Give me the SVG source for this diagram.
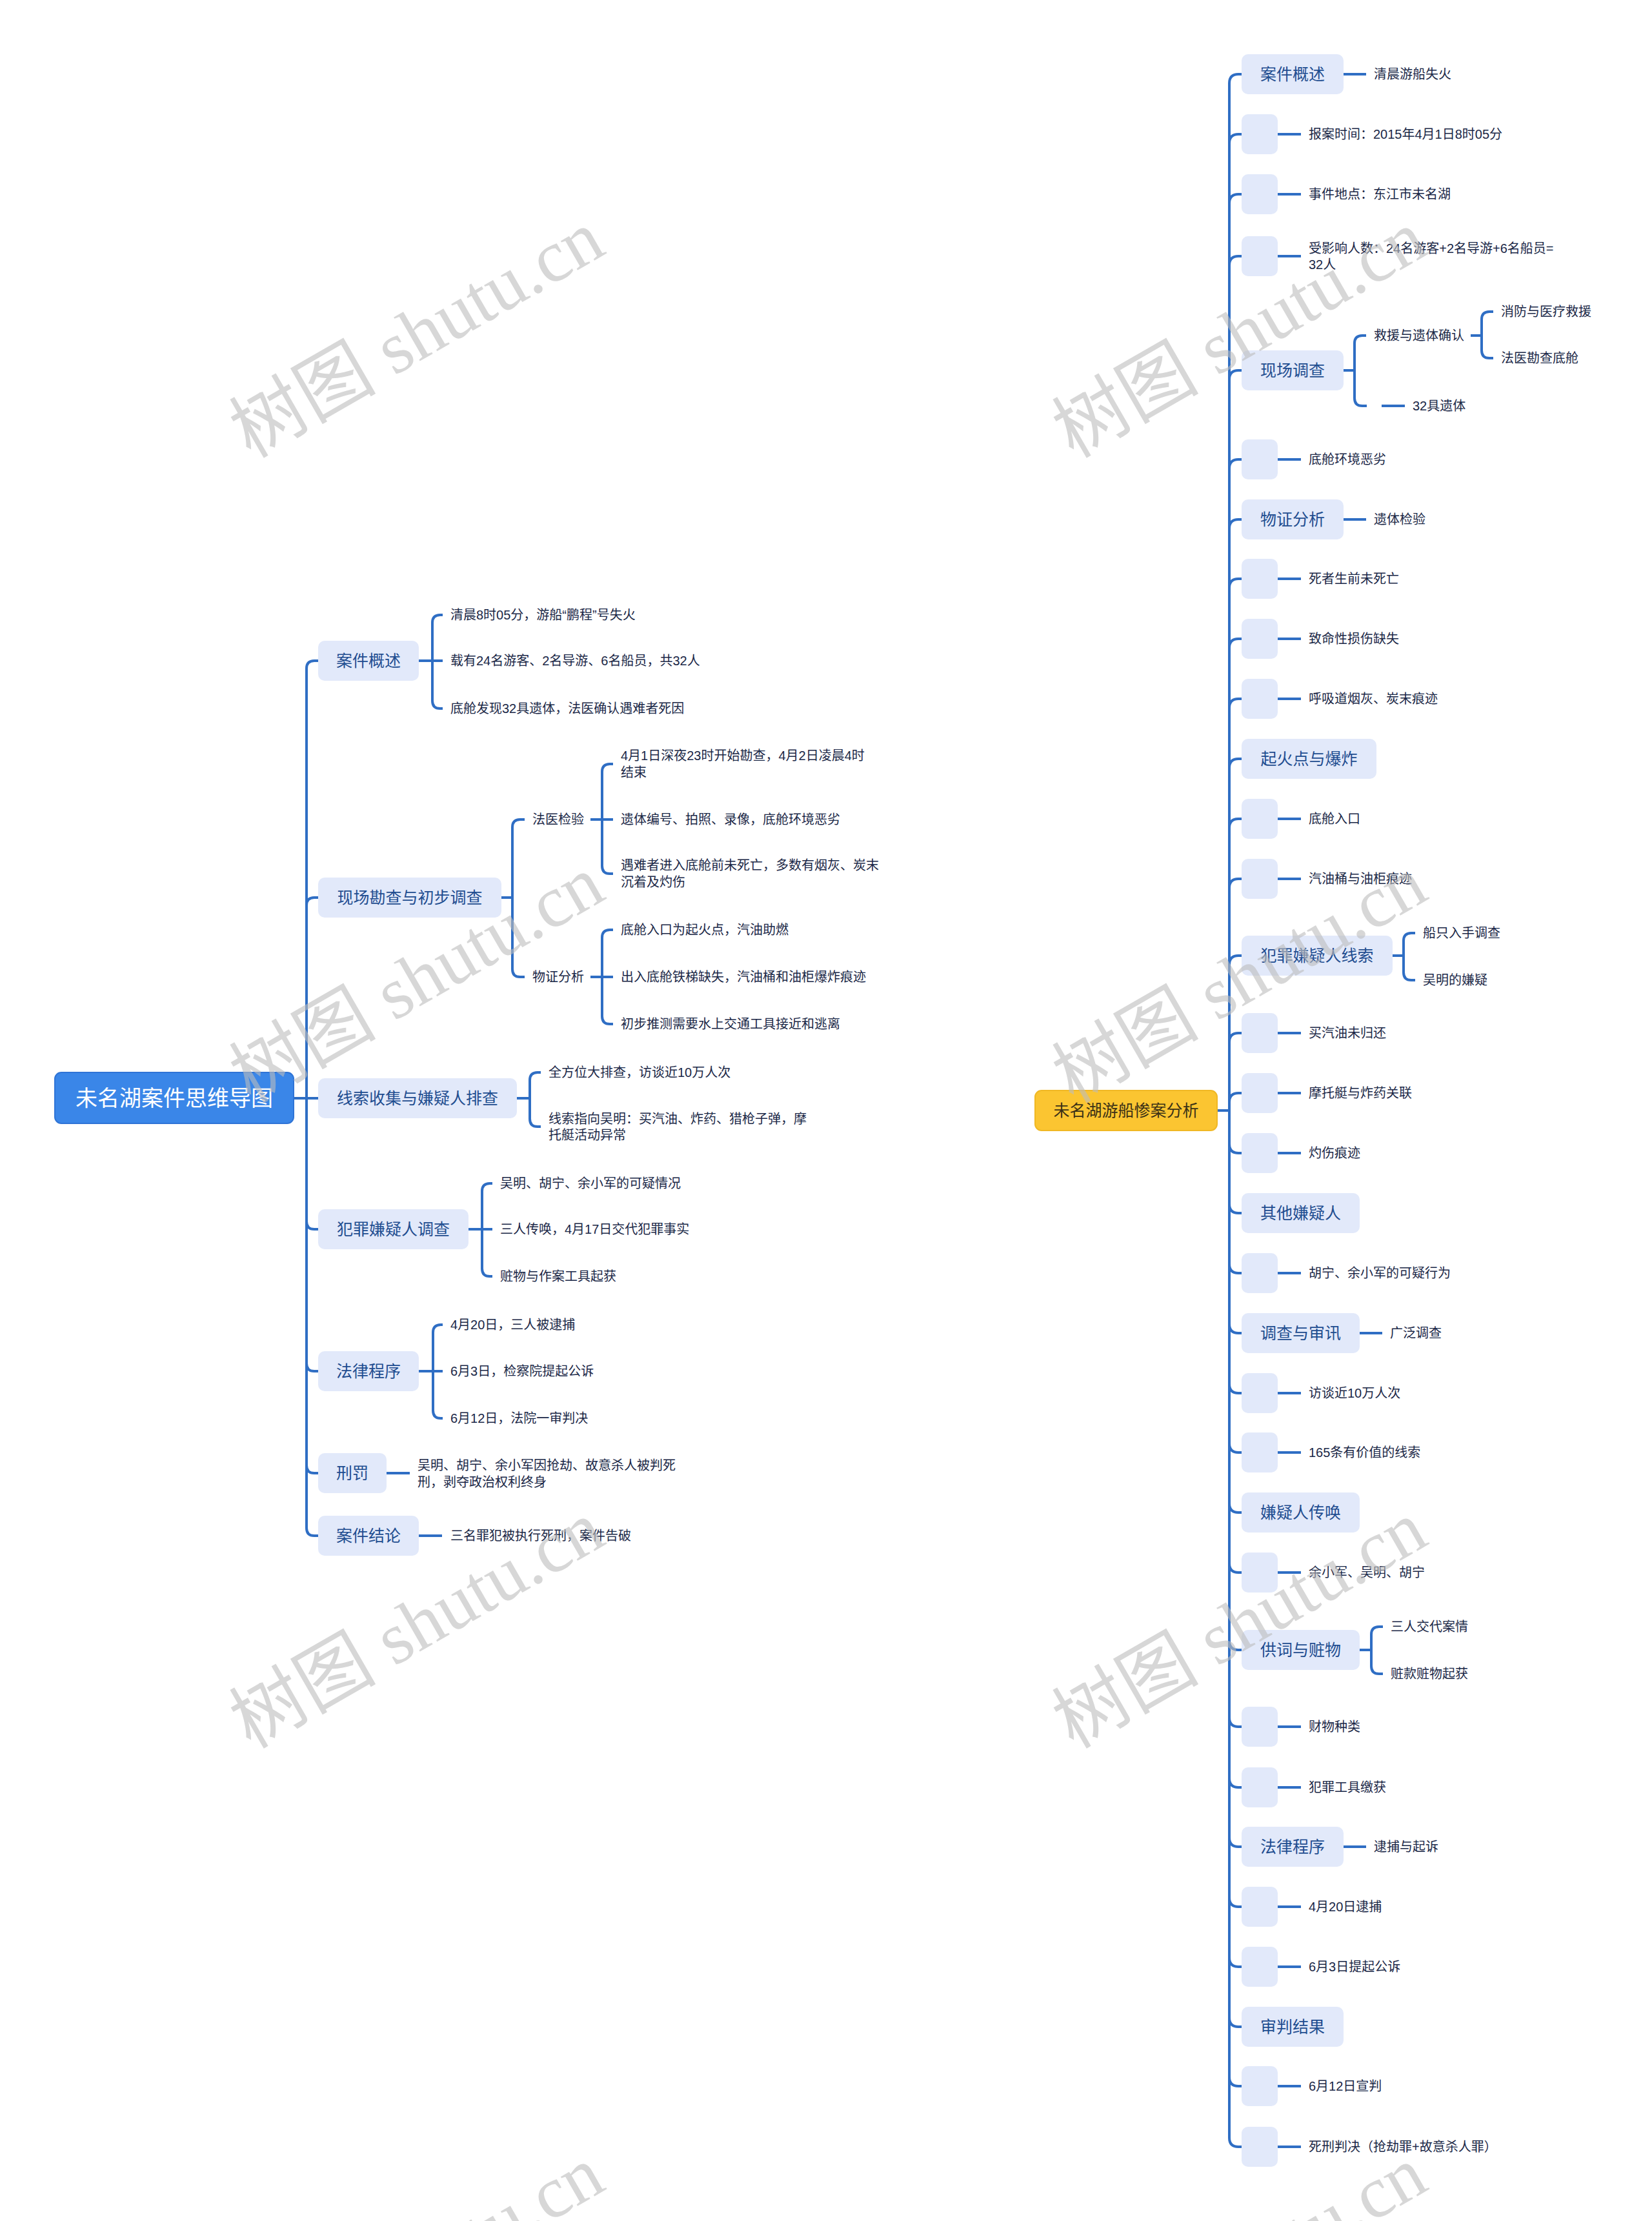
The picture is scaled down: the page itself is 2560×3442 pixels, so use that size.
<svg xmlns="http://www.w3.org/2000/svg" width="2560" height="3442" viewBox="0 0 2560 3442">
<style>
.ln{fill:none;stroke:#2f6ec4;stroke-width:4}
.bx{fill:#e2e9fa}
.tt{font-family:"Liberation Sans","Noto Sans CJK SC",sans-serif;font-size:25px;fill:#1f4d90;text-anchor:middle;dominant-baseline:central}
.lf{font-family:"Liberation Sans","Noto Sans CJK SC",sans-serif;font-size:20px;fill:#1b2847;dominant-baseline:central}
.wm{font-family:"Liberation Serif","Noto Sans CJK SC",serif;font-size:114px;fill:#bdbdbd;opacity:0.6;text-anchor:middle;dominant-baseline:central}
</style>
<rect width="2560" height="3442" fill="#ffffff"/>

<g id="connectors">
<!-- left root -->
<path class="ln" d="M475 1036 V2368"/>
<path class="ln" d="M475 1036 Q475 1024 487 1024 H493"/>
<path class="ln" d="M475 1403 Q475 1391 487 1391 H493"/>
<path class="ln" d="M455 1702 H493"/>
<path class="ln" d="M475 1893 Q475 1905 487 1905 H493"/>
<path class="ln" d="M475 2113 Q475 2125 487 2125 H493"/>
<path class="ln" d="M475 2271 Q475 2283 487 2283 H493"/>
<path class="ln" d="M475 2368 Q475 2380 487 2380 H493"/>
<!-- 案件概述 left -->
<path class="ln" d="M649 1024 H686 M670 965 V1086 M670 965 Q670 953 682 953 H686 M670 1086 Q670 1098 682 1098 H686"/>
<!-- 现场勘查 -->
<path class="ln" d="M777 1391 H794 M794 1282 V1502 M794 1282 Q794 1270 806 1270 H813 M794 1502 Q794 1514 806 1514 H813"/>
<path class="ln" d="M915 1270 H950 M933 1196 V1342 M933 1196 Q933 1184 945 1184 H950 M933 1342 Q933 1354 945 1354 H950"/>
<path class="ln" d="M915 1514 H950 M933 1453 V1575 M933 1453 Q933 1441 945 1441 H950 M933 1575 Q933 1587 945 1587 H950"/>
<!-- 线索收集 -->
<path class="ln" d="M801 1702 H821 M821 1674 V1734 M821 1674 Q821 1662 833 1662 H838 M821 1734 Q821 1746 833 1746 H838"/>
<!-- 犯罪嫌疑人调查 -->
<path class="ln" d="M726 1905 H763 M747 1846 V1966 M747 1846 Q747 1834 759 1834 H763 M747 1966 Q747 1978 759 1978 H763"/>
<!-- 法律程序 left -->
<path class="ln" d="M649 2125 H686 M671 2065 V2186 M671 2065 Q671 2053 683 2053 H686 M671 2186 Q671 2198 683 2198 H686"/>
<!-- 刑罚, 案件结论 -->
<path class="ln" d="M599 2283 H635"/>
<path class="ln" d="M649 2380 H685"/>

<!-- right root -->
<path class="ln" d="M1886 1721 H1905"/>
<path class="ln" d="M1905 129 V3313"/>
<path class="ln" d="M1905 129 Q1905 115 1919 115 H1924 M1905 222 Q1905 208 1919 208 H1924 M1905 315 Q1905 301 1919 301 H1924 M1905 411 Q1905 397 1919 397 H1924 M1905 588 Q1905 574 1919 574 H1924 M1905 726 Q1905 712 1919 712 H1924 M1905 819 Q1905 805 1919 805 H1924 M1905 911 Q1905 897 1919 897 H1924 M1905 1004 Q1905 990 1919 990 H1924 M1905 1097 Q1905 1083 1919 1083 H1924 M1905 1190 Q1905 1176 1919 1176 H1924 M1905 1283 Q1905 1269 1919 1269 H1924 M1905 1376 Q1905 1362 1919 1362 H1924 M1905 1495 Q1905 1481 1919 1481 H1924 M1905 1615 Q1905 1601 1919 1601 H1924 M1905 1708 Q1905 1694 1919 1694 H1924"/>
<path class="ln" d="M1905 1773 Q1905 1787 1919 1787 H1924 M1905 1866 Q1905 1880 1919 1880 H1924 M1905 1959 Q1905 1973 1919 1973 H1924 M1905 2052 Q1905 2066 1919 2066 H1924 M1905 2145 Q1905 2159 1919 2159 H1924 M1905 2237 Q1905 2251 1919 2251 H1924 M1905 2330 Q1905 2344 1919 2344 H1924 M1905 2423 Q1905 2437 1919 2437 H1924 M1905 2543 Q1905 2557 1919 2557 H1924 M1905 2662 Q1905 2676 1919 2676 H1924 M1905 2756 Q1905 2770 1919 2770 H1924 M1905 2848 Q1905 2862 1919 2862 H1924 M1905 2941 Q1905 2955 1919 2955 H1924 M1905 3034 Q1905 3048 1919 3048 H1924 M1905 3127 Q1905 3141 1919 3141 H1924 M1905 3219 Q1905 3233 1919 3233 H1924 M1905 3313 Q1905 3327 1919 3327 H1924"/>
<!-- empty box leaf links -->
<path class="ln" d="M1980 208 H2016 M1980 301 H2016 M1980 397 H2016 M1980 712 H2016 M1980 897 H2016 M1980 990 H2016 M1980 1083 H2016 M1980 1269 H2016 M1980 1362 H2016 M1980 1601 H2016 M1980 1694 H2016 M1980 1787 H2016 M1980 1973 H2016 M1980 2159 H2016 M1980 2251 H2016 M1980 2437 H2016 M1980 2676 H2016 M1980 2770 H2016 M1980 2955 H2016 M1980 3048 H2016 M1980 3233 H2016 M1980 3327 H2016"/>
<!-- topic leaf links -->
<path class="ln" d="M2082 115 H2117 M2082 805 H2117 M2107 2066 H2142 M2082 2862 H2117"/>
<!-- 现场调查 -->
<path class="ln" d="M2082 574 H2099 M2099 532 V617 M2099 532 Q2099 520 2111 520 H2117 M2099 617 Q2099 629 2111 629 H2118 M2141 629 H2177"/>
<path class="ln" d="M2279 520 H2296 M2296 495 V543 M2296 495 Q2296 483 2308 483 H2314 M2296 543 Q2296 555 2308 555 H2314"/>
<!-- 犯罪嫌疑人线索 -->
<path class="ln" d="M2158 1481 H2175 M2175 1458 V1507 M2175 1458 Q2175 1446 2187 1446 H2193 M2175 1507 Q2175 1519 2187 1519 H2193"/>
<!-- 供词与赃物 -->
<path class="ln" d="M2107 2557 H2125 M2125 2533 V2582 M2125 2533 Q2125 2521 2137 2521 H2143 M2125 2582 Q2125 2594 2137 2594 H2143"/>
</g>

<!-- LEFT TREE -->
<g id="root-left"><rect x="85" y="1662" width="370" height="79" rx="10" fill="#3a86e8" stroke="#2f74d6" stroke-width="2"/><text x="270" y="1702" style="font-family:'Liberation Sans','Noto Sans CJK SC',sans-serif;font-size:34px;fill:#ffffff;text-anchor:middle;dominant-baseline:central">未名湖案件思维导图</text></g>

<g id="l-ajgs"><rect class="bx" x="493" y="993" width="156" height="62" rx="10"/><text class="tt" x="571" y="1024">案件概述</text></g>
<g id="l-ajgs-1"><text class="lf" x="698" y="953">清晨8时05分，游船“鹏程”号失火</text></g>
<g id="l-ajgs-2"><text class="lf" x="698" y="1024">载有24名游客、2名导游、6名船员，共32人</text></g>
<g id="l-ajgs-3"><text class="lf" x="698" y="1098">底舱发现32具遗体，法医确认遇难者死因</text></g>

<g id="l-xckc"><rect class="bx" x="493" y="1360" width="284" height="62" rx="10"/><text class="tt" x="635" y="1391">现场勘查与初步调查</text></g>
<g id="l-fyjy"><text class="lf" x="825" y="1270">法医检验</text></g>
<g id="l-fyjy-1"><text class="lf" x="962" y="1171">4月1日深夜23时开始勘查，4月2日凌晨4时</text><text class="lf" x="962" y="1197">结束</text></g>
<g id="l-fyjy-2"><text class="lf" x="962" y="1270">遗体编号、拍照、录像，底舱环境恶劣</text></g>
<g id="l-fyjy-3"><text class="lf" x="962" y="1341">遇难者进入底舱前未死亡，多数有烟灰、炭末</text><text class="lf" x="962" y="1367">沉着及灼伤</text></g>
<g id="l-wzfx"><text class="lf" x="825" y="1514">物证分析</text></g>
<g id="l-wzfx-1"><text class="lf" x="962" y="1441">底舱入口为起火点，汽油助燃</text></g>
<g id="l-wzfx-2"><text class="lf" x="962" y="1514">出入底舱铁梯缺失，汽油桶和油柜爆炸痕迹</text></g>
<g id="l-wzfx-3"><text class="lf" x="962" y="1587">初步推测需要水上交通工具接近和逃离</text></g>

<g id="l-xssj"><rect class="bx" x="493" y="1671" width="308" height="62" rx="10"/><text class="tt" x="647" y="1702">线索收集与嫌疑人排查</text></g>
<g id="l-xssj-1"><text class="lf" x="850" y="1662">全方位大排查，访谈近10万人次</text></g>
<g id="l-xssj-2"><text class="lf" x="850" y="1734">线索指向吴明：买汽油、炸药、猎枪子弹，摩</text><text class="lf" x="850" y="1759">托艇活动异常</text></g>

<g id="l-fzxyr"><rect class="bx" x="493" y="1874" width="233" height="62" rx="10"/><text class="tt" x="609.5" y="1905">犯罪嫌疑人调查</text></g>
<g id="l-fzxyr-1"><text class="lf" x="775" y="1834">吴明、胡宁、余小军的可疑情况</text></g>
<g id="l-fzxyr-2"><text class="lf" x="775" y="1905">三人传唤，4月17日交代犯罪事实</text></g>
<g id="l-fzxyr-3"><text class="lf" x="775" y="1978">赃物与作案工具起获</text></g>

<g id="l-flcx"><rect class="bx" x="493" y="2094" width="156" height="62" rx="10"/><text class="tt" x="571" y="2125">法律程序</text></g>
<g id="l-flcx-1"><text class="lf" x="698" y="2053">4月20日，三人被逮捕</text></g>
<g id="l-flcx-2"><text class="lf" x="698" y="2125">6月3日，检察院提起公诉</text></g>
<g id="l-flcx-3"><text class="lf" x="698" y="2198">6月12日，法院一审判决</text></g>

<g id="l-xf"><rect class="bx" x="493" y="2252" width="106" height="62" rx="10"/><text class="tt" x="546" y="2283">刑罚</text></g>
<g id="l-xf-1"><text class="lf" x="647" y="2271">吴明、胡宁、余小军因抢劫、故意杀人被判死</text><text class="lf" x="647" y="2297">刑，剥夺政治权利终身</text></g>

<g id="l-ajjl"><rect class="bx" x="493" y="2349" width="156" height="62" rx="10"/><text class="tt" x="571" y="2380">案件结论</text></g>
<g id="l-ajjl-1"><text class="lf" x="698" y="2380">三名罪犯被执行死刑，案件告破</text></g>

<!-- RIGHT TREE -->
<g id="root-right"><rect x="1604" y="1690" width="282" height="62" rx="10" fill="#fbc531" stroke="#f0b824" stroke-width="2"/><text x="1745" y="1721" style="font-family:'Liberation Sans','Noto Sans CJK SC',sans-serif;font-size:25px;fill:#3b3116;text-anchor:middle;dominant-baseline:central">未名湖游船惨案分析</text></g>

<g id="r-ajgs"><rect class="bx" x="1924" y="84" width="158" height="62" rx="10"/><text class="tt" x="2003" y="115">案件概述</text><text class="lf" x="2129" y="115">清晨游船失火</text></g>
<g id="r-e1"><rect class="bx" x="1924" y="177" width="56" height="62" rx="10"/><text class="lf" x="2028" y="208">报案时间：2015年4月1日8时05分</text></g>
<g id="r-e2"><rect class="bx" x="1924" y="270" width="56" height="62" rx="10"/><text class="lf" x="2028" y="301">事件地点：东江市未名湖</text></g>
<g id="r-e3"><rect class="bx" x="1924" y="366" width="56" height="62" rx="10"/><text class="lf" x="2028" y="385">受影响人数：24名游客+2名导游+6名船员=</text><text class="lf" x="2028" y="410">32人</text></g>
<g id="r-xcdc"><rect class="bx" x="1924" y="543" width="158" height="62" rx="10"/><text class="tt" x="2003" y="574">现场调查</text></g>
<g id="r-jyqr"><text class="lf" x="2129" y="520">救援与遗体确认</text></g>
<g id="r-jyqr-1"><text class="lf" x="2326" y="483">消防与医疗救援</text></g>
<g id="r-jyqr-2"><text class="lf" x="2326" y="555">法医勘查底舱</text></g>
<g id="r-32jyt"><text class="lf" x="2189" y="629">32具遗体</text></g>
<g id="r-e4"><rect class="bx" x="1924" y="681" width="56" height="62" rx="10"/><text class="lf" x="2028" y="712">底舱环境恶劣</text></g>
<g id="r-wzfx"><rect class="bx" x="1924" y="774" width="158" height="62" rx="10"/><text class="tt" x="2003" y="805">物证分析</text><text class="lf" x="2129" y="805">遗体检验</text></g>
<g id="r-e5"><rect class="bx" x="1924" y="866" width="56" height="62" rx="10"/><text class="lf" x="2028" y="897">死者生前未死亡</text></g>
<g id="r-e6"><rect class="bx" x="1924" y="959" width="56" height="62" rx="10"/><text class="lf" x="2028" y="990">致命性损伤缺失</text></g>
<g id="r-e7"><rect class="bx" x="1924" y="1052" width="56" height="62" rx="10"/><text class="lf" x="2028" y="1083">呼吸道烟灰、炭末痕迹</text></g>
<g id="r-qhd"><rect class="bx" x="1924" y="1145" width="209" height="62" rx="10"/><text class="tt" x="2028.5" y="1176">起火点与爆炸</text></g>
<g id="r-e8"><rect class="bx" x="1924" y="1238" width="56" height="62" rx="10"/><text class="lf" x="2028" y="1269">底舱入口</text></g>
<g id="r-e9"><rect class="bx" x="1924" y="1331" width="56" height="62" rx="10"/><text class="lf" x="2028" y="1362">汽油桶与油柜痕迹</text></g>
<g id="r-fzxs"><rect class="bx" x="1924" y="1450" width="234" height="62" rx="10"/><text class="tt" x="2041" y="1481">犯罪嫌疑人线索</text><text class="lf" x="2205" y="1446">船只入手调查</text><text class="lf" x="2205" y="1519">吴明的嫌疑</text></g>
<g id="r-e10"><rect class="bx" x="1924" y="1570" width="56" height="62" rx="10"/><text class="lf" x="2028" y="1601">买汽油未归还</text></g>
<g id="r-e11"><rect class="bx" x="1924" y="1663" width="56" height="62" rx="10"/><text class="lf" x="2028" y="1694">摩托艇与炸药关联</text></g>
<g id="r-e12"><rect class="bx" x="1924" y="1756" width="56" height="62" rx="10"/><text class="lf" x="2028" y="1787">灼伤痕迹</text></g>
<g id="r-qtxyr"><rect class="bx" x="1924" y="1849" width="183" height="62" rx="10"/><text class="tt" x="2015.5" y="1880">其他嫌疑人</text></g>
<g id="r-e13"><rect class="bx" x="1924" y="1942" width="56" height="62" rx="10"/><text class="lf" x="2028" y="1973">胡宁、余小军的可疑行为</text></g>
<g id="r-dcsx"><rect class="bx" x="1924" y="2035" width="183" height="62" rx="10"/><text class="tt" x="2015.5" y="2066">调查与审讯</text><text class="lf" x="2154" y="2066">广泛调查</text></g>
<g id="r-e14"><rect class="bx" x="1924" y="2128" width="56" height="62" rx="10"/><text class="lf" x="2028" y="2159">访谈近10万人次</text></g>
<g id="r-e15"><rect class="bx" x="1924" y="2220" width="56" height="62" rx="10"/><text class="lf" x="2028" y="2251">165条有价值的线索</text></g>
<g id="r-xyrch"><rect class="bx" x="1924" y="2313" width="183" height="62" rx="10"/><text class="tt" x="2015.5" y="2344">嫌疑人传唤</text></g>
<g id="r-e16"><rect class="bx" x="1924" y="2406" width="56" height="62" rx="10"/><text class="lf" x="2028" y="2437">余小军、吴明、胡宁</text></g>
<g id="r-gczw"><rect class="bx" x="1924" y="2526" width="183" height="62" rx="10"/><text class="tt" x="2015.5" y="2557">供词与赃物</text><text class="lf" x="2155" y="2521">三人交代案情</text><text class="lf" x="2155" y="2594">赃款赃物起获</text></g>
<g id="r-e17"><rect class="bx" x="1924" y="2645" width="56" height="62" rx="10"/><text class="lf" x="2028" y="2676">财物种类</text></g>
<g id="r-e18"><rect class="bx" x="1924" y="2739" width="56" height="62" rx="10"/><text class="lf" x="2028" y="2770">犯罪工具缴获</text></g>
<g id="r-flcx"><rect class="bx" x="1924" y="2831" width="158" height="62" rx="10"/><text class="tt" x="2003" y="2862">法律程序</text><text class="lf" x="2129" y="2862">逮捕与起诉</text></g>
<g id="r-e19"><rect class="bx" x="1924" y="2924" width="56" height="62" rx="10"/><text class="lf" x="2028" y="2955">4月20日逮捕</text></g>
<g id="r-e20"><rect class="bx" x="1924" y="3017" width="56" height="62" rx="10"/><text class="lf" x="2028" y="3048">6月3日提起公诉</text></g>
<g id="r-spjg"><rect class="bx" x="1924" y="3110" width="158" height="62" rx="10"/><text class="tt" x="2003" y="3141">审判结果</text></g>
<g id="r-e21"><rect class="bx" x="1924" y="3202" width="56" height="62" rx="10"/><text class="lf" x="2028" y="3233">6月12日宣判</text></g>
<g id="r-e22"><rect class="bx" x="1924" y="3296" width="56" height="62" rx="10"/><text class="lf" x="2028" y="3327">死刑判决（抢劫罪+故意杀人罪）</text></g>

<g id="watermark">
<text class="wm" transform="translate(646 518) rotate(-30)">树图 shutu.cn</text>
<text class="wm" transform="translate(646 1518) rotate(-30)">树图 shutu.cn</text>
<text class="wm" transform="translate(646 2518) rotate(-30)">树图 shutu.cn</text>
<text class="wm" transform="translate(646 3518) rotate(-30)">树图 shutu.cn</text>
<text class="wm" transform="translate(1921 518) rotate(-30)">树图 shutu.cn</text>
<text class="wm" transform="translate(1921 1518) rotate(-30)">树图 shutu.cn</text>
<text class="wm" transform="translate(1921 2518) rotate(-30)">树图 shutu.cn</text>
<text class="wm" transform="translate(1921 3518) rotate(-30)">树图 shutu.cn</text>
</g>
</svg>
